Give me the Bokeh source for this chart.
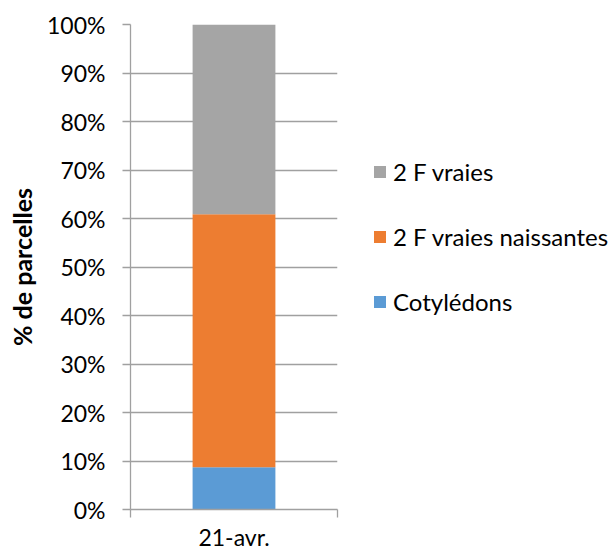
from bokeh.plotting import figure
from bokeh.models import (FactorRange, Range1d, LinearAxis, FixedTicker,
                          NumeralTickFormatter, Legend, LegendItem, ColumnDataSource)
from bokeh.embed import file_html
from bokeh.resources import INLINE

# ---- data ----
categories = ["21-avr."]
series_names = ["Cotylédons", "2 F vraies naissantes", "2 F vraies"]
cotyledons = [0.087]
vraies_naissantes = [0.522]
vraies = [0.391]
y_ticks = [0.0, 0.1, 0.2, 0.3, 0.4, 0.5, 0.6, 0.7, 0.8, 0.9, 1.0]
y_axis_title = "% de parcelles"

colors = ["#5B9BD5", "#ED7D31", "#A5A5A5"]
FONT = "Lato"
GRID = "#A0A0A0"

source = ColumnDataSource(data=dict(
    cat=categories,
    c0=cotyledons,
    c1=vraies_naissantes,
    c2=vraies,
))

p = figure(
    x_range=FactorRange(*categories, range_padding=0),
    y_range=Range1d(0, 1),
    frame_width=207, frame_height=485,
    min_border_left=130, min_border_right=0, min_border_top=24, min_border_bottom=41,
    x_axis_location=None, y_axis_location=None,
    toolbar_location=None, output_backend="svg",
)
p.outline_line_color = None
p.background_fill_color = "white"
p.border_fill_color = "white"

renderers = p.vbar_stack(["c0", "c1", "c2"], x="cat", width=0.4, source=source,
                         color=colors, line_color=None)

# y axis
yaxis = LinearAxis(ticker=FixedTicker(ticks=y_ticks),
                   formatter=NumeralTickFormatter(format="0%"))
yaxis.axis_label = y_axis_title
yaxis.axis_label_text_font = FONT
yaxis.axis_label_text_font_style = "bold"
yaxis.axis_label_text_font_size = "25px"
yaxis.axis_label_text_color = "black"
yaxis.axis_label_standoff = 7
yaxis.major_label_text_font = FONT
yaxis.major_label_text_font_size = "23px"
yaxis.major_label_text_color = "black"
yaxis.major_label_standoff = 17
yaxis.axis_line_color = GRID
yaxis.axis_line_width = 1.3
yaxis.major_tick_line_color = GRID
yaxis.major_tick_line_width = 1.3
yaxis.major_tick_out = 8
yaxis.major_tick_in = 0
yaxis.minor_tick_line_color = None
p.add_layout(yaxis, "left")

# grid
p.ygrid.ticker = FixedTicker(ticks=y_ticks)
p.ygrid.grid_line_color = GRID
p.ygrid.grid_line_width = 1.3
p.xgrid.grid_line_color = None

# bottom axis: labels at category centres, tick marks between categories
centers = [i + 0.5 for i in range(len(categories))]
edges = [float(i) for i in range(len(categories) + 1)]
xaxis = LinearAxis(ticker=FixedTicker(ticks=centers, minor_ticks=edges))
xaxis.major_label_overrides = {c: lab for c, lab in zip(centers, categories)}
xaxis.axis_line_color = GRID
xaxis.axis_line_width = 1.3
xaxis.major_tick_line_color = None
xaxis.major_tick_out = 0
xaxis.major_tick_in = 0
xaxis.minor_tick_line_color = GRID
xaxis.minor_tick_line_width = 1.3
xaxis.minor_tick_out = 8
xaxis.minor_tick_in = 0
xaxis.major_label_standoff = 5
xaxis.major_label_text_font = FONT
xaxis.major_label_text_font_size = "23px"
xaxis.major_label_text_color = "black"
p.add_layout(xaxis, "below")

# legend (top to bottom: 2 F vraies, naissantes, Cotylédons)
items = [LegendItem(label=series_names[i], renderers=[renderers[i]]) for i in (2, 1, 0)]
legend = Legend(items=items, location=(35, 193))
legend.label_text_font = FONT
legend.label_text_font_size = "24px"
legend.label_text_color = "black"
legend.glyph_width = 15
legend.glyph_height = 15
legend.label_height = 29
legend.label_standoff = 6
legend.spacing = 36
legend.padding = 0
legend.margin = 0
legend.border_line_color = None
legend.background_fill_alpha = 0
p.add_layout(legend, "right")

open("out.html", "w").write(file_html(p, INLINE))
